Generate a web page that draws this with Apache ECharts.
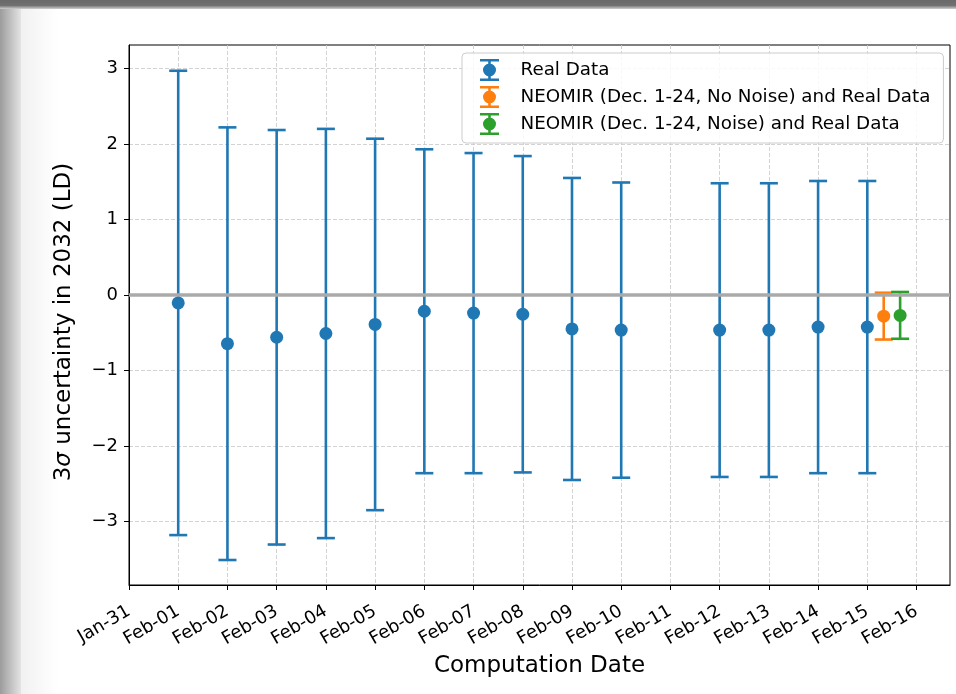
<!DOCTYPE html>
<html><head><meta charset="utf-8">
<script src="https://cdn.jsdelivr.net/npm/echarts@6/dist/echarts.min.js"></script>
<style>html,body{margin:0;padding:0;background:#fff;overflow:hidden}#c{width:956px;height:694px}</style>
</head><body><div id="c"></div>
<script>
// ---- data ----
const xTickLabels = ['Jan-31','Feb-01','Feb-02','Feb-03','Feb-04','Feb-05','Feb-06','Feb-07','Feb-08','Feb-09','Feb-10','Feb-11','Feb-12','Feb-13','Feb-14','Feb-15','Feb-16'];
const yTickValues = [-3,-2,-1,0,1,2,3];
const yTickLabels = ['\u22123','\u22122','\u22121','0','1','2','3'];
const legendNames = ['Real Data','NEOMIR (Dec. 1-24, No Noise) and Real Data','NEOMIR (Dec. 1-24, Noise) and Real Data'];

const realDates  = ['Feb-01','Feb-02','Feb-03','Feb-04','Feb-05','Feb-06','Feb-07','Feb-08','Feb-09','Feb-10','Feb-12','Feb-13','Feb-14','Feb-15'];
const realCenter = [-0.105,-0.645,-0.56,-0.51,-0.39,-0.215,-0.24,-0.255,-0.45,-0.465,-0.465,-0.465,-0.425,-0.425];
const realErr    = [3.075,2.865,2.745,2.71,2.46,2.145,2.12,2.095,2.0,1.955,1.945,1.945,1.935,1.935];

const noNoiseDates  = ['Feb-15 08:00'];
const noNoiseCenter = [-0.28];
const noNoiseErr    = [0.31];

const noiseDates  = ['Feb-15 16:00'];
const noiseCenter = [-0.27];
const noiseErr    = [0.31];

const colors = ['#1f77b4','#ff7f0e','#2ca02c'];

// ---- helpers ----
function dayIndex(s){
  const parts = s.split(' ');
  let v = xTickLabels.indexOf(parts[0]);
  if (parts[1]) { const hm = parts[1].split(':'); v += (Number(hm[0]) + Number(hm[1])/60)/24; }
  return v;
}
function errData(dates, c, e){ return dates.map((d,i)=>[dayIndex(d), c[i]-e[i], c[i]+e[i]]); }
function ptData(dates, c){ return dates.map((d,i)=>[dayIndex(d), c[i]]); }
function errRender(color){
  return function(params, api){
    const x = api.value(0), lo = api.value(1), hi = api.value(2);
    const a = api.coord([x, lo]), b = api.coord([x, hi]);
    const cw = 9;
    const style = {stroke: color, lineWidth: 2.6};
    return {type:'group', children:[
      {type:'line', shape:{x1:a[0],y1:a[1],x2:b[0],y2:b[1]}, style:style},
      {type:'line', shape:{x1:a[0]-cw,y1:a[1],x2:a[0]+cw,y2:a[1]}, style:style},
      {type:'line', shape:{x1:b[0]-cw,y1:b[1],x2:b[0]+cw,y2:b[1]}, style:style}
    ]};
  };
}
const iconPath = 'path://M0,0H19V2.6H0Z M0,19.4H19V22H0Z M8.2,0H10.8V22H8.2Z M16,11A6.5,6.5,0,1,1,3,11A6.5,6.5,0,1,1,16,11Z';
const xTickValues = xTickLabels.map((_,i)=>i);
const FONT = 'DejaVu Sans';

const chart = echarts.init(document.getElementById('c'), null, {renderer:'canvas'});
const groups = [
  [realDates, realCenter, realErr],
  [noNoiseDates, noNoiseCenter, noNoiseErr],
  [noiseDates, noiseCenter, noiseErr]
];
const series = [{
  type:'line', name:'zero', data:[], z:1, silent:true,
  markLine:{silent:true, symbol:['none','none'], label:{show:false},
    lineStyle:{color:'#aaaaaa', width:3.5, type:'solid'}, data:[{yAxis:0}]}
}];
groups.forEach((g,k)=>{
  series.push({type:'custom', name:'err'+k, renderItem: errRender(colors[k]), data: errData(g[0],g[1],g[2]),
    encode:{x:0, y:[1,2]}, z:2, silent:true});
});
groups.forEach((g,k)=>{
  series.push({type:'scatter', name:legendNames[k], data: ptData(g[0],g[1]), symbol:'circle', symbolSize:13,
    itemStyle:{color:colors[k], opacity:1}, z:3, silent:true});
});

chart.setOption({
  animation:false,
  textStyle:{fontFamily:FONT},
  graphic:{elements:[
    {type:'rect', z:-10, shape:{x:0,y:0,width:21,height:694},
      style:{fill:new echarts.graphic.LinearGradient(0,0,1,0,[{offset:0,color:'#9c9c9c'},{offset:1,color:'#e4e4e4'}])}},
    {type:'rect', z:-10, shape:{x:21,y:0,width:37,height:694},
      style:{fill:new echarts.graphic.LinearGradient(0,0,1,0,[{offset:0,color:'#f1f1f1'},{offset:1,color:'#ffffff'}])}},
    {type:'rect', z:-9, shape:{x:0,y:0,width:956,height:9},
      style:{fill:new echarts.graphic.LinearGradient(0,0,0,1,[{offset:0,color:'#6a6a6a'},{offset:0.6,color:'#707070'},{offset:1,color:'#d0d0d0'}])}}
  ]},
  grid:{left:129, right:6, top:45, bottom:109, show:true, borderColor:'#000', borderWidth:1, backgroundColor:'transparent'},
  legend:{
    orient:'vertical', left:462, top:53, itemWidth:52, itemHeight:22, itemGap:5,
    padding:[6,13,8,18], backgroundColor:'rgba(255,255,255,0.85)', borderColor:'#cccccc', borderWidth:1, borderRadius:4,
    symbolKeepAspect:true, selectedMode:false,
    textStyle:{fontSize:18.3, color:'#000', fontFamily:FONT},
    data: legendNames.map(n=>({name:n, icon:iconPath}))
  },
  xAxis:{
    type:'value', min:0, max:16.68,
    axisLine:{show:true, onZero:false, lineStyle:{color:'#000', width:1}},
    axisTick:{show:true, customValues:xTickValues, length:5, lineStyle:{color:'#000', width:1}},
    axisLabel:{customValues:xTickValues, rotate:30, margin:25, fontSize:18, color:'#000', fontFamily:FONT,
      formatter:v=>xTickLabels[Math.round(v)]},
    splitLine:{show:true, lineStyle:{type:[4,2], color:'#c8c8c8', width:0.8}},
    name:'Computation Date', nameLocation:'middle', nameGap:70,
    nameTextStyle:{fontSize:23, color:'#000', fontFamily:FONT}
  },
  yAxis:{
    type:'value', min:-3.841, max:3.311,
    axisLine:{show:true, onZero:false, lineStyle:{color:'#000', width:1}},
    axisTick:{show:true, customValues:yTickValues, length:5, lineStyle:{color:'#000', width:1}},
    axisLabel:{customValues:yTickValues, margin:11, fontSize:18, color:'#000', fontFamily:FONT,
      formatter:v=>yTickLabels[yTickValues.indexOf(Math.round(v))]},
    splitLine:{show:true, lineStyle:{type:[4,2], color:'#c8c8c8', width:0.8}},
    name:'3{i|\u03c3} uncertainty in 2032 (LD)', nameLocation:'middle', nameGap:53,
    nameTextStyle:{fontSize:23, color:'#000', fontFamily:FONT, padding:[0,14,0,0],
      rich:{i:{fontStyle:'italic', fontSize:23, fontFamily:FONT}}}
  },
  series: series
});
</script></body></html>
